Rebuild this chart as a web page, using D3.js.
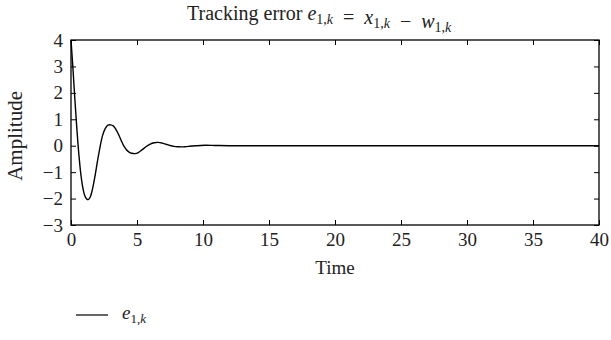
<!DOCTYPE html>
<html><head><meta charset="utf-8">
<script src="https://cdn.jsdelivr.net/npm/d3@7"></script>
<style>body{margin:0;background:#fff}svg{display:block}text{font-family:"Liberation Serif","DejaVu Serif",serif;fill:#222}</style>
</head><body><svg id="c" width="611" height="340"></svg>
<script>
const time = [0,0.15,0.3,0.45,0.6,0.75,0.9,1.05,1.2,1.3,1.45,1.6,1.8,2.0,2.2,2.4,2.6,2.8,3.0,3.2,3.4,3.6,3.8,4.0,4.2,4.4,4.6,4.85,5.1,5.4,5.7,6.0,6.3,6.6,6.9,7.2,7.5,7.8,8.1,8.4,8.7,9.0,9.4,9.8,10.2,10.7,11.2,12,13,15,20,25,30,35,40];
const e1k  = [4.0,2.9,1.7,0.6,-0.35,-1.1,-1.6,-1.9,-2.02,-2.04,-1.95,-1.7,-1.2,-0.6,-0.05,0.4,0.66,0.78,0.79,0.75,0.62,0.43,0.2,-0.01,-0.15,-0.24,-0.285,-0.3,-0.26,-0.15,-0.03,0.06,0.11,0.125,0.1,0.055,0.01,-0.025,-0.04,-0.045,-0.035,-0.02,0.0,0.01,0.015,0.012,0.006,0.001,0,0,0,0,0,0,0];
const xTicks = [0,5,10,15,20,25,30,35,40];
const yTicks = [-3,-2,-1,0,1,2,3,4];

const svg = d3.select("#c");
const L=71,R=599,T=40,B=225;
const x = d3.scaleLinear().domain([0,40]).range([L,R]);
const y = d3.scaleLinear().domain([-3,4]).range([B,T]);
const fs = 19, fsT = 20, fsY = 21;

svg.append("rect").attr("x",L).attr("y",T).attr("width",R-L).attr("height",B-T)
  .attr("fill","none").attr("stroke","#000").attr("stroke-width",1.3);

const fmt = d => d<0 ? "\u2212"+Math.abs(d) : String(d);
const axB = d3.axisBottom(x).tickValues(xTicks).tickSizeInner(-5).tickSizeOuter(0).tickPadding(8).tickFormat(fmt);
const axT = d3.axisTop(x).tickValues(xTicks).tickSizeInner(-5).tickSizeOuter(0).tickFormat("");
const axL = d3.axisLeft(y).tickValues(yTicks).tickSizeInner(-5).tickSizeOuter(0).tickPadding(8).tickFormat(fmt);
const axR = d3.axisRight(y).tickValues(yTicks).tickSizeInner(-5).tickSizeOuter(0).tickFormat("");
function style(g){g.select(".domain").remove();g.selectAll("line").attr("stroke","#000");g.selectAll("text").style("font-size",fs+"px").attr("fill","#222");}
svg.append("g").attr("transform",`translate(0,${B})`).call(axB).call(style);
svg.append("g").attr("transform",`translate(0,${T})`).call(axT).call(style);
svg.append("g").attr("transform",`translate(${L},0)`).call(axL).call(style);
svg.append("g").attr("transform",`translate(${R},0)`).call(axR).call(style);

const line = d3.line().x((d,i)=>x(time[i])).y(d=>y(d)).curve(d3.curveCatmullRom.alpha(0.5));
svg.append("path").datum(e1k).attr("d",line).attr("fill","none").attr("stroke","#000").attr("stroke-width",1.4);

const t = svg.append("text").attr("x",x(18.8)).attr("y",20).attr("text-anchor","middle").style("font-size",fsT+"px");
function sub(te, v, s){
  te.append("tspan").attr("font-style","italic").text(v);
  te.append("tspan").attr("dy",4).style("font-size",s+"px").text("1,");
  te.append("tspan").style("font-size",s+"px").attr("font-style","italic").text("k");
  te.append("tspan").attr("dy",-4).text("");
}
t.append("tspan").text("Tracking error ");
sub(t,"e",14);
t.append("tspan").text("\u2002=\u2002");
sub(t,"x",14);
t.append("tspan").text("\u2002\u2212\u2002");
sub(t,"w",14);

svg.append("text").attr("x",(L+R)/2).attr("y",274).attr("text-anchor","middle").style("font-size",fs+"px").text("Time");
svg.append("text").attr("transform",`translate(22,${y(0.37)}) rotate(-90)`).attr("text-anchor","middle").style("font-size",fsY+"px").text("Amplitude");

svg.append("line").attr("x1",76).attr("x2",108).attr("y1",315).attr("y2",315).attr("stroke","#000").attr("stroke-width",1.2);
const lg = svg.append("text").attr("x",122).attr("y",319).style("font-size",fs+"px");
sub(lg,"e",13);
</script></body></html>
